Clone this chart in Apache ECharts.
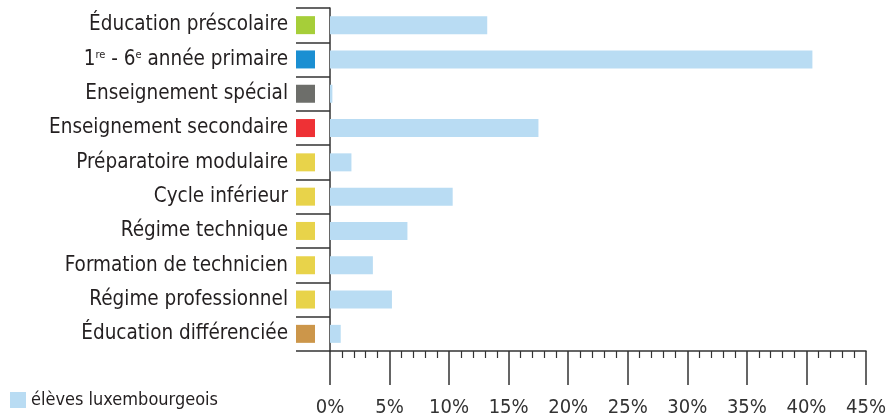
<!DOCTYPE html>
<html>
<head>
<meta charset="utf-8">
<script src="https://cdn.jsdelivr.net/npm/echarts@6/dist/echarts.min.js"></script>
<style>
  html, body { margin: 0; padding: 0; background: #fff; }
  #chart { width: 891px; height: 418px; }
</style>
</head>
<body>
<div id="chart"></div>
<script>
// catégories (de haut en bas)
var categories = [
  "Éducation préscolaire",
  "1re - 6e année primaire",
  "Enseignement spécial",
  "Enseignement secondaire",
  "Préparatoire modulaire",
  "Cycle inférieur",
  "Régime technique",
  "Formation de technicien",
  "Régime professionnel",
  "Éducation différenciée"
];
// part des élèves luxembourgeois, en %
var luxValues = [13.2, 40.5, 0.2, 17.5, 1.8, 10.3, 6.5, 3.6, 5.2, 0.9];
// petits carrés de couleur à côté des libellés
var squareColors = ["#a6ce39", "#1b8fd2", "#6d6e6a", "#ee3135", "#e8d34a",
  "#e8d34a", "#e8d34a", "#e8d34a", "#e8d34a", "#cc964a"];
var seriesName = "élèves luxembourgeois";

var FONT = '"Liberation Sans Narrow", "DejaVu Sans Condensed", sans-serif';
var INK = "#231f20";
var AXIS = "#333333";

var rich = {
  t: { fontSize: 20.5, color: INK, fontFamily: FONT, lineHeight: 24 },
  s: { fontSize: 11, color: INK, fontFamily: FONT, lineHeight: 24, verticalAlign: "top", padding: [2, 0, 0, 0] },
  g: { width: 8 }
};
squareColors.forEach(function (c, i) {
  rich["c" + i] = { width: 19, height: 18, backgroundColor: c };
});

var myChart = echarts.init(document.getElementById("chart"));
var option = {
  animation: false,
  textStyle: { fontFamily: FONT },
  grid: { left: 330, right: 25, top: 8, bottom: 66, containLabel: false },
  legend: {
    left: 10,
    top: 391,
    padding: 0,
    itemWidth: 16,
    itemHeight: 16,
    itemGap: 8,
    icon: "rect",
    data: [seriesName],
    textStyle: { fontSize: 18, color: INK, fontFamily: FONT }
  },
  xAxis: {
    type: "value",
    min: 0,
    max: 45,
    interval: 5,
    axisLine: { show: true, lineStyle: { color: AXIS, width: 1.5 } },
    axisTick: { show: true, length: 34, lineStyle: { color: AXIS, width: 1.5 } },
    minorTick: { show: true, splitNumber: 5, length: 7, lineStyle: { color: AXIS, width: 1.2 } },
    splitLine: { show: false },
    axisLabel: {
      margin: 47,
      fontSize: 20,
      color: AXIS,
      fontFamily: FONT,
      formatter: function (v) { return v + "%"; }
    }
  },
  yAxis: {
    type: "category",
    inverse: true,
    data: categories,
    axisLine: { show: true, lineStyle: { color: AXIS, width: 1.5 } },
    axisTick: { show: true, length: 34, lineStyle: { color: AXIS, width: 1.5 } },
    axisLabel: {
      margin: 15,
      formatter: function (value, idx) {
        if (idx === 1) {
          return "{t|1}{s|re}{t| - 6}{s|e}{t| année primaire}{g|}{c1|}";
        }
        return "{t|" + value + "}{g|}{c" + idx + "|}";
      },
      rich: rich
    }
  },
  series: [
    {
      name: seriesName,
      type: "bar",
      data: luxValues,
      barWidth: 18,
      itemStyle: { color: "#b9dcf3" }
    }
  ]
};
myChart.setOption(option);
</script>
</body>
</html>
